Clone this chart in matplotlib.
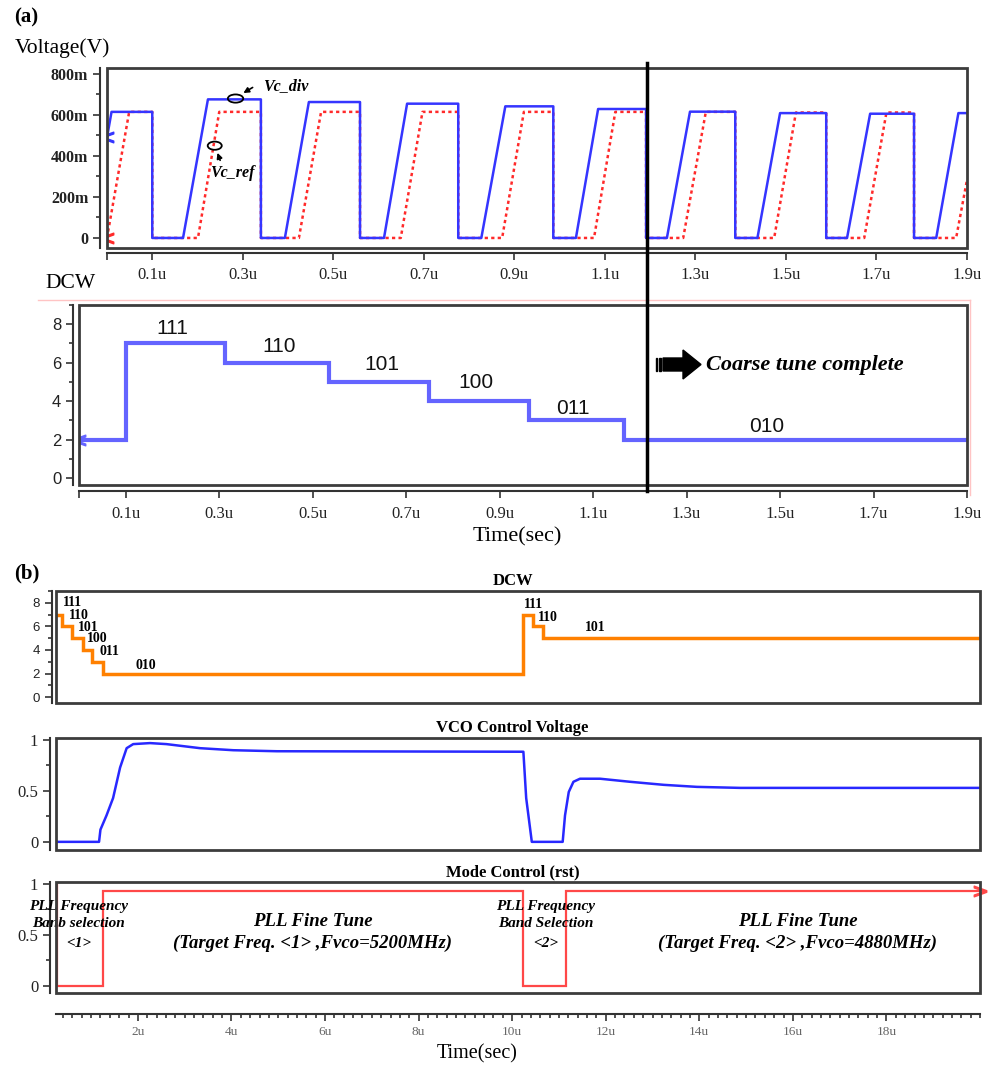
import matplotlib
matplotlib.use('Agg')
import matplotlib.pyplot as plt
from matplotlib import transforms
from matplotlib.patches import Rectangle, Ellipse, Polygon
from matplotlib.lines import Line2D
from matplotlib.ticker import MultipleLocator

SERIF = 'Liberation Serif'
SANS = 'Liberation Sans'

## DATA (time in us) ##
# (a) top panel: Vc_div (blue) and Vc_ref (red dotted)
div_start = [0.0, 0.01]
div_start_v = [0.49, 0.615]
div_fall = [0.1, 0.340, 0.559, 0.776, 0.986, 1.191, 1.388, 1.589, 1.783]
div_rise0 = [0.168, 0.393, 0.612, 0.827, 1.036, 1.237, 1.437, 1.635, 1.832]
div_rise1 = [0.223, 0.446, 0.663, 0.880, 1.085, 1.288, 1.487, 1.686, 1.881]
div_high = [0.676, 0.663, 0.655, 0.642, 0.629, 0.616, 0.609, 0.606, 0.609]

ref_start = [0.0, 0.049]
ref_start_v = [0.0, 0.615]
ref_rise0 = [0.201, 0.424, 0.649, 0.873, 1.076, 1.273, 1.474, 1.673, 1.876]
ref_rise1 = [0.248, 0.473, 0.697, 0.921, 1.123, 1.323, 1.522, 1.722, 1.9]
ref_high = [0.615, 0.615, 0.615, 0.615, 0.615, 0.615, 0.612, 0.612, 0.283]

# (a) DCW
dcw_a_edges = [0.0, 0.1, 0.313, 0.535, 0.749, 0.963, 1.167, 1.9]
dcw_a_vals = [2, 7, 6, 5, 4, 3, 2]
dcw_a_lab = ['111', '110', '101', '100', '011', '010']
dcw_a_lab_x = [0.199, 0.428, 0.648, 0.849, 1.057, 1.472]
dcw_a_lab_y = [7.8, 6.86, 5.92, 4.99, 3.64, 2.70]

# (b) DCW
dcw_b_edges = [0.25, 0.37, 0.60, 0.82, 1.03, 1.26, 10.23, 10.44, 10.66, 20.0]
dcw_b_vals = [7, 6, 5, 4, 3, 2, 7, 6, 5]
dcw_b_lab = ['111', '110', '101', '100', '011', '010', '111', '110', '101']
dcw_b_lab_x = [0.61, 0.74, 0.93, 1.14, 1.40, 2.17, 10.45, 10.77, 11.78]
dcw_b_lab_y = [8.0, 6.9, 5.87, 4.94, 3.83, 2.64, 7.83, 6.72, 5.87]

# (b) VCO control voltage
vco_t = [0.25, 1.17, 1.20, 1.33, 1.47, 1.62, 1.76, 1.90, 2.26, 2.61, 3.33, 4.04, 4.97,
         10.24, 10.30, 10.42, 11.08, 11.13, 11.21, 11.31, 11.45, 11.88, 12.52, 13.24, 13.95, 14.88, 20.0]
vco_v = [0, 0, 0.12, 0.26, 0.43, 0.73, 0.92, 0.96, 0.97, 0.96, 0.92, 0.90, 0.89,
         0.885, 0.43, 0, 0, 0.26, 0.49, 0.59, 0.62, 0.62, 0.59, 0.56, 0.54, 0.53, 0.53]

# (b) mode control (rst)
rst_edges = [0.25, 0.27, 1.26, 10.23, 11.15, 20.0]
rst_vals = [1.0, 0, 0.93, 0, 0.93]

## FIGURE ##
W, H = 997, 1065
fig = plt.figure(figsize=(W / 100, H / 100), dpi=100)
pix = transforms.Affine2D().scale(1 / W, -1 / H).translate(0, 1) + fig.transFigure


def box(l, t, r, b):
    return [l / W, 1 - b / H, (r - l) / W, (b - t) / H]


def frame(ax, left_off, bottom_off=None):
    for s in ['top', 'right']:
        ax.spines[s].set_visible(False)
    ax.spines['left'].set_position(('outward', left_off))
    if bottom_off is None:
        ax.spines['bottom'].set_visible(False)
        ax.set_xticks([])
    else:
        ax.spines['bottom'].set_position(('outward', bottom_off))
    for s in ax.spines.values():
        s.set_linewidth(1.5)
        s.set_color('#333333')
    ax.add_patch(Rectangle((0, 0), 1, 1, transform=ax.transAxes, fill=False,
                           lw=2, ec='#3c3c3c', clip_on=False, zorder=6))
    ax.tick_params(which='both', direction='out', color='#333333', width=1.2)
    ax.tick_params(which='major', length=5)
    ax.tick_params(which='minor', length=3)


def square(t0, v0, falls, r0, r1, highs, t_end):
    t = list(t0)
    v = list(v0)
    for i in range(len(falls)):
        t += [falls[i], falls[i], r0[i], r1[i]]
        v += [v[-1], 0, 0, highs[i]]
    t.append(t_end)
    v.append(v[-1])
    return t, v


## (a) top: voltages ##
ax1 = fig.add_axes(box(107, 68, 967, 248))
frame(ax1, 5, 3.6)
bt, bv = square(div_start, div_start_v, div_fall, div_rise0, div_rise1, div_high, 1.9)
rt, rv = square(ref_start, ref_start_v, div_fall, ref_rise0, ref_rise1, ref_high, 1.9)
ax1.plot(rt, rv, color='#ff2a2a', lw=1.8, ls=(0, (1.3, 1.3)))
ax1.plot(bt, bv, color='#3535ff', lw=1.8)
ax1.plot(bt[0], bv[0], marker='$<$', color='#3535ff', ms=9)
ax1.plot(rt[0], rv[0], marker='$<$', color='#ff2a2a', ms=9)
ax1.set_xlim(0, 1.9)
ax1.set_ylim(-0.049, 0.829)
xt = [0, 0.1, 0.3, 0.5, 0.7, 0.9, 1.1, 1.3, 1.5, 1.7, 1.9]
xl = [''] + ['%.1fu' % v for v in xt[1:]]
ax1.set_xticks(xt, xl, fontfamily=SERIF, fontsize=12, color='#222222')
ax1.set_yticks([0, 0.2, 0.4, 0.6, 0.8], ['0', '200m', '400m', '600m', '800m'],
               fontfamily=SERIF, fontsize=11.5, fontweight='bold', color='#222222')
ax1.yaxis.set_minor_locator(MultipleLocator(0.1))
ax1.tick_params(axis='x', pad=5)

ax1.add_patch(Ellipse((0.284, 0.68), 0.034, 0.04, fill=False, lw=1.3, ec='black', zorder=7))
ax1.add_patch(Ellipse((0.238, 0.45), 0.031, 0.04, fill=False, lw=1.3, ec='black', zorder=7))
ax1.annotate('', xy=(0.296, 0.70), xytext=(0.327, 0.741),
             arrowprops=dict(arrowstyle='-|>', color='black', lw=1.2, mutation_scale=8))
ax1.annotate('', xy=(0.242, 0.428), xytext=(0.252, 0.366),
             arrowprops=dict(arrowstyle='-|>', color='black', lw=1.2, mutation_scale=8))
ax1.text(0.396, 0.741, 'Vc_div', fontfamily=SERIF, fontsize=11.5, fontweight='bold',
         fontstyle='italic', ha='center', va='center')
ax1.text(0.276, 0.317, 'Vc_ref', fontfamily=SERIF, fontsize=11.5, fontweight='bold',
         fontstyle='italic', ha='center', va='center')

## (a) DCW ##
ax2 = fig.add_axes(box(79, 305, 967, 485))
frame(ax2, 4.3, 4.3)
ax2.stairs(dcw_a_vals, dcw_a_edges, baseline=None, color='#6464ff', lw=3)
ax2.plot(dcw_a_edges[0], dcw_a_vals[0], marker='$<$', color='#6464ff', ms=9)
for s, x, y in zip(dcw_a_lab, dcw_a_lab_x, dcw_a_lab_y):
    ax2.text(x, y, s, fontfamily=SANS, fontsize=15, ha='center', va='center', color='#111111')
ax2.set_xlim(0, 1.9)
ax2.set_ylim(-0.36, 9.0)
ax2.set_xticks(xt, xl, fontfamily=SERIF, fontsize=12, color='#222222')
ax2.set_yticks([0, 2, 4, 6, 8], ['0', '2', '4', '6', '8'], fontfamily=SANS, fontsize=12, color='#222222')
ax2.yaxis.set_minor_locator(MultipleLocator(1))
ax2.tick_params(axis='x', pad=6)

# coarse tune marker
fig.add_artist(Line2D([647, 647], [63, 491], transform=pix, color='black', lw=2.5, zorder=10))
fig.add_artist(Line2D([38, 970], [300, 300], transform=pix, color='#ffc4c4', lw=1))
fig.add_artist(Line2D([970, 970], [300, 495], transform=pix, color='#ffc4c4', lw=1))
fig.add_artist(Polygon([(663, 358), (683, 358), (683, 350), (701, 364.5), (683, 379), (683, 371), (663, 371)],
                       closed=True, transform=pix, color='black'))
for xs in [655.5, 658.8]:
    fig.add_artist(Rectangle((xs, 358), 1.8, 13, transform=pix, color='black'))
fig.text(706, 365, 'Coarse tune complete', transform=pix, fontfamily=SERIF, fontsize=16,
         fontweight='bold', fontstyle='italic', ha='left', va='center')

fig.text(14, 17, '(a)', transform=pix, fontfamily=SERIF, fontsize=15, fontweight='bold', va='center')
fig.text(15, 48, 'Voltage(V)', transform=pix, fontfamily=SERIF, fontsize=15.5, va='center')
fig.text(45, 283, 'DCW', transform=pix, fontfamily=SERIF, fontsize=15.5, va='center')
fig.text(517, 537, 'Time(sec)', transform=pix, fontfamily=SERIF, fontsize=16, ha='center', va='center')

## (b) DCW ##
ax3 = fig.add_axes(box(56, 591, 980, 703))
frame(ax3, 2.9)
ax3.stairs(dcw_b_vals, dcw_b_edges, baseline=None, color='#ff8000', lw=2.5)
for s, x, y in zip(dcw_b_lab, dcw_b_lab_x, dcw_b_lab_y):
    ax3.text(x, y, s, fontfamily=SERIF, fontsize=10, fontweight='bold', ha='center', va='center')
ax3.set_xlim(0.25, 20)
ax3.set_ylim(-0.5, 9.0)
ax3.set_yticks([0, 2, 4, 6, 8], ['0', '2', '4', '6', '8'], fontfamily=SANS, fontsize=9.5, color='#222222')
ax3.yaxis.set_minor_locator(MultipleLocator(1))
ax3.set_title('DCW', fontfamily=SERIF, fontsize=12, fontweight='bold', pad=4, x=0.494)

## (b) VCO control voltage ##
ax4 = fig.add_axes(box(56, 738, 980, 850))
frame(ax4, 4.3)
ax4.plot(vco_t, vco_v, color='#2828ff', lw=1.8)
ax4.set_xlim(0.25, 20)
ax4.set_ylim(-0.08, 1.02)
ax4.set_yticks([0, 0.5, 1], ['0', '0.5', '1'], fontfamily=SERIF, fontsize=12, color='#222222')
ax4.yaxis.set_minor_locator(MultipleLocator(0.25))
ax4.set_title('VCO Control Voltage', fontfamily=SERIF, fontsize=12, fontweight='bold', pad=4, x=0.494)

## (b) mode control ##
ax5 = fig.add_axes(box(56, 882, 980, 993))
frame(ax5, 4.3, 15)
ax5.stairs(rst_vals, rst_edges, baseline=None, color='#ff4848', lw=1.6)
ax5.plot(rst_edges[-1], rst_vals[-1], marker='$>$', color='#ff4848', ms=9, clip_on=False)
ax5.set_xlim(0.25, 20)
ax5.set_ylim(-0.07, 1.02)
ax5.set_yticks([0, 0.5, 1], ['0', '0.5', '1'], fontfamily=SERIF, fontsize=12, color='#222222')
ax5.yaxis.set_minor_locator(MultipleLocator(0.25))
bx = [2, 4, 6, 8, 10, 12, 14, 16, 18]
ax5.set_xticks(bx, ['%du' % v for v in bx], fontfamily=SERIF, fontsize=9.5, color='#666666')
ax5.xaxis.set_minor_locator(MultipleLocator(0.2))
ax5.tick_params(axis='x', which='major', length=5, pad=4)
ax5.set_title('Mode Control (rst)', fontfamily=SERIF, fontsize=12, fontweight='bold', pad=4, x=0.494)

bi = dict(fontfamily=SERIF, fontweight='bold', fontstyle='italic', ha='center', va='center')
ax5.text(0.74, 0.78, 'PLL Frequency', fontsize=11, **bi)
ax5.text(0.74, 0.61, 'Banb selection', fontsize=11, **bi)
ax5.text(0.74, 0.42, '<1>', fontsize=11, **bi)
ax5.text(5.74, 0.63, 'PLL Fine Tune', fontsize=13.5, **bi)
ax5.text(5.74, 0.42, '(Target Freq. <1> ,Fvco=5200MHz)', fontsize=13.5, **bi)
ax5.text(10.71, 0.78, 'PLL Frequency', fontsize=11, **bi)
ax5.text(10.71, 0.61, 'Band Selection', fontsize=11, **bi)
ax5.text(10.71, 0.42, '<2>', fontsize=11, **bi)
ax5.text(16.1, 0.63, 'PLL Fine Tune', fontsize=13.5, **bi)
ax5.text(16.1, 0.42, '(Target Freq. <2> ,Fvco=4880MHz)', fontsize=13.5, **bi)

fig.text(14, 573, '(b)', transform=pix, fontfamily=SERIF, fontsize=15, fontweight='bold', va='center')
fig.text(477, 1054, 'Time(sec)', transform=pix, fontfamily=SERIF, fontsize=14.5, ha='center', va='center')

fig.savefig('out.png', dpi=100)
